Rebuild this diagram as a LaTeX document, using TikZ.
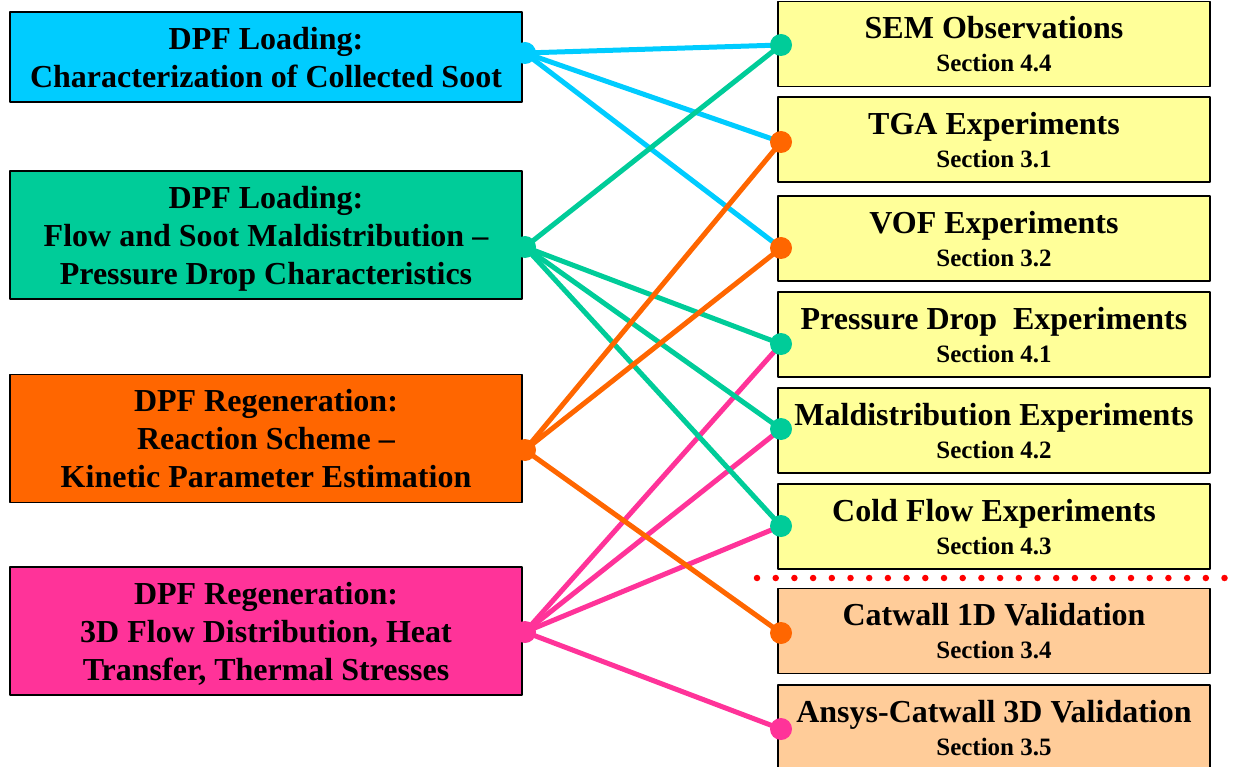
\documentclass[tikz,border=0pt]{standalone}
\usepackage{fontspec}
\setmainfont{Liberation Serif}
\usepackage{xcolor}
\usepackage{tikz}
\definecolor{loadcyan}{HTML}{00CCFF}
\definecolor{loadteal}{HTML}{00CC99}
\definecolor{regorange}{HTML}{FF6600}
\definecolor{regpink}{HTML}{FF3399}
\definecolor{expyellow}{HTML}{FFFF99}
\definecolor{valpeach}{HTML}{FFCC99}
\newcommand{\secline}[1]{\fontsize{25}{33}\selectfont #1}
\tikzset{
	topic/.style={
			draw=black, line width=1.2pt, fill=#1,
			minimum width=512pt, minimum height=128pt, text depth=0pt,
			align=center, font=\fontsize{32}{38}\selectfont\bfseries
		},
	study/.style={
			draw=black, line width=1.2pt, fill=#1,
			minimum width=432pt, minimum height=85pt, text depth=0pt,
			align=center, font=\fontsize{32}{33}\selectfont\bfseries
		},
	link/.style={line width=5pt, color=#1}
}

\begin{document}
\begin{tikzpicture}[x=1pt,y=-1pt,line cap=round,line join=round]
			\useasboundingbox (0,0) rectangle (1234,767);
			\clip (0,0) rectangle (1234,767);
			
			% Topics
			\node[topic=loadcyan, minimum height=90pt] (loadSoot) at (266,57) {DPF Loading:\\Characterization of Collected Soot};
			\node[topic=loadteal] (loadFlow) at (266,235) {DPF Loading:\\Flow and Soot Maldistribution –\\Pressure Drop Characteristics};
			\node[topic=regorange] (regenKin) at (266,438.5) {DPF Regeneration:\\Reaction Scheme –\\Kinetic Parameter Estimation};
			\node[topic=regpink] (regenHeat) at (266,631) {DPF Regeneration:\\3D Flow Distribution, Heat\\Transfer, Thermal Stresses};
			
			% Experiments and validations
			\node[study=expyellow] (sem) at (994,44) {SEM Observations\\\secline{Section 4.4}};
			\node[study=expyellow] (tga) at (994,139.5) {TGA Experiments\\\secline{Section 3.1}};
			\node[study=expyellow] (vof) at (994,238.5) {VOF Experiments\\\secline{Section 3.2}};
			\node[study=expyellow] (pdrop) at (994,334.5) {Pressure Drop~ Experiments\\\secline{Section 4.1}};
			\node[study=expyellow] (maldist) at (994,430.5) {Maldistribution Experiments\\\secline{Section 4.2}};
			\node[study=expyellow] (cold) at (994,526.5) {Cold Flow Experiments\\\secline{Section 4.3}};
			\node[study=valpeach] (catwall) at (994,631) {Catwall 1D Validation\\\secline{Section 3.4}};
			\node[study=valpeach] (ansys) at (994,727.5) {Ansys-Catwall 3D Validation\\\secline{Section 3.5}};
			
			% Separator
			\coordinate (sepW) at (757,578);
			\coordinate (sepE) at (1234,578);
			\draw[red, line width=6.5pt, dash pattern=on 0pt off 18.7pt] (sepW) -- (sepE);
			
			% Joints
			\coordinate (jSoot) at (525,53);
			\coordinate (jFlow) at (525,247);
			\coordinate (jKin) at (525,450);
			\coordinate (jHeat) at (525,632);
			\coordinate (jSem) at (781,45);
			\coordinate (jTga) at (781,142);
			\coordinate (jVof) at (781,248);
			\coordinate (jPdrop) at (781,344);
			\coordinate (jMal) at (781,429);
			\coordinate (jCold) at (781,526);
			\coordinate (jCat) at (781,633);
			\coordinate (jAnsys) at (781,729);
			
			% Links
			\draw[link=loadcyan] (jSoot) -- (jSem);
			\draw[link=loadcyan] (jSoot) -- (jTga);
			\draw[link=loadcyan] (jSoot) -- (jVof);
			\draw[link=regpink] (jHeat) -- (jPdrop);
			\draw[link=regpink] (jHeat) -- (jMal);
			\draw[link=regpink] (jHeat) -- (jCold);
			\draw[link=regpink] (jHeat) -- (jAnsys);
			\draw[link=loadteal] (jFlow) -- (jSem);
			\draw[link=loadteal] (jFlow) -- (jPdrop);
			\draw[link=loadteal] (jFlow) -- (jMal);
			\draw[link=loadteal] (jFlow) -- (jCold);
			\draw[link=regorange] (jKin) -- (jTga);
			\draw[link=regorange] (jKin) -- (jVof);
			\draw[link=regorange] (jKin) -- (jCat);
			
			% Dots
			\fill[loadcyan] (jSoot) circle (11pt);
			\fill[loadteal] (jFlow) circle (11pt);
			\fill[regorange] (jKin) circle (11pt);
			\fill[regpink] (jHeat) circle (11pt);
			\fill[loadteal] (jSem) circle (11pt);
			\fill[regorange] (jTga) circle (11pt);
			\fill[regorange] (jVof) circle (11pt);
			\fill[loadteal] (jPdrop) circle (11pt);
			\fill[loadteal] (jMal) circle (11pt);
			\fill[loadteal] (jCold) circle (11pt);
			\fill[regorange] (jCat) circle (11pt);
			\fill[regpink] (jAnsys) circle (11pt);
			
		\end{tikzpicture}
\end{document}
